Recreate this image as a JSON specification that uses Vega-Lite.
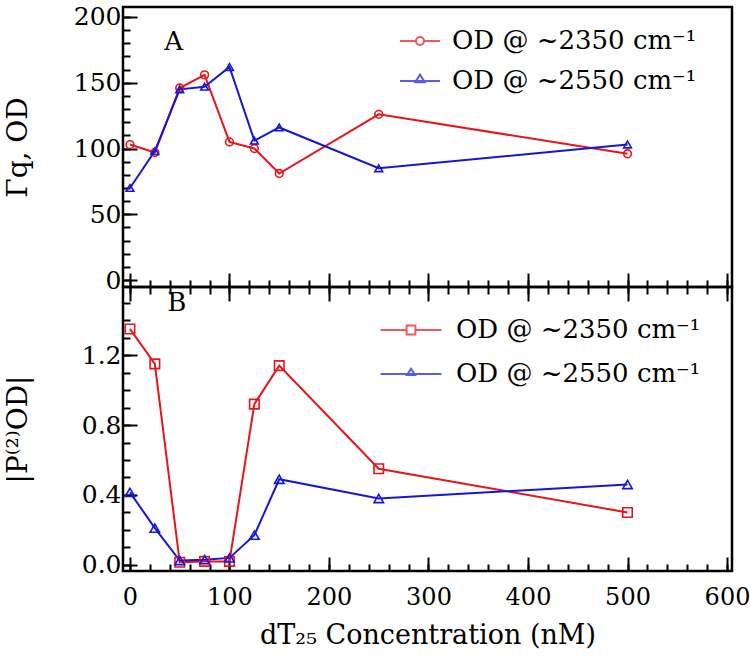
{
  "$schema": "https://vega.github.io/schema/vega-lite/v6.json",
  "padding": {"left": 2, "top": 3, "right": 4, "bottom": 5},
  "background": "white",
  "spacing": 0,
  "bounds": "flush",
  "datasets": {
    "gamma": [
      {"c": 0, "s": "2350", "v": 103}, {"c": 25, "s": "2350", "v": 97}, {"c": 50, "s": "2350", "v": 146},
      {"c": 75, "s": "2350", "v": 156}, {"c": 100, "s": "2350", "v": 105}, {"c": 125, "s": "2350", "v": 100},
      {"c": 150, "s": "2350", "v": 81}, {"c": 250, "s": "2350", "v": 126}, {"c": 500, "s": "2350", "v": 96},
      {"c": 0, "s": "2550", "v": 70}, {"c": 25, "s": "2550", "v": 98}, {"c": 50, "s": "2550", "v": 145},
      {"c": 75, "s": "2550", "v": 147}, {"c": 100, "s": "2550", "v": 162}, {"c": 125, "s": "2550", "v": 106},
      {"c": 150, "s": "2550", "v": 116}, {"c": 250, "s": "2550", "v": 85}, {"c": 500, "s": "2550", "v": 103}
    ],
    "p2": [
      {"c": 0, "s": "2350", "v": 1.35}, {"c": 25, "s": "2350", "v": 1.15}, {"c": 50, "s": "2350", "v": 0.015},
      {"c": 75, "s": "2350", "v": 0.02}, {"c": 100, "s": "2350", "v": 0.02}, {"c": 125, "s": "2350", "v": 0.92},
      {"c": 150, "s": "2350", "v": 1.14}, {"c": 250, "s": "2350", "v": 0.55}, {"c": 500, "s": "2350", "v": 0.30},
      {"c": 0, "s": "2550", "v": 0.415}, {"c": 25, "s": "2550", "v": 0.21}, {"c": 50, "s": "2550", "v": 0.025},
      {"c": 75, "s": "2550", "v": 0.03}, {"c": 100, "s": "2550", "v": 0.04}, {"c": 125, "s": "2550", "v": 0.17},
      {"c": 150, "s": "2550", "v": 0.49}, {"c": 250, "s": "2550", "v": 0.38}, {"c": 500, "s": "2550", "v": 0.46}
    ]
  },
  "resolve": {
    "scale": {"color": "independent", "shape": "independent", "y": "independent", "x": "independent"},
    "legend": {"color": "independent", "shape": "independent"}
  },
  "vconcat": [
    {
      "width": 609,
      "height": 280,
      "data": {"name": "gamma"},
      "resolve": {"axis": {"x": "independent", "y": "independent"}},
      "layer": [
        {
          "mark": {"type": "line", "strokeWidth": 2},
          "encoding": {
            "x": {
              "field": "c", "type": "quantitative",
              "scale": {"domain": [-7, 605], "nice": false, "zero": false},
              "axis": {"orient": "bottom", "values": [0,20,40,60,80,100,120,140,160,180,200,220,240,260,280,300,320,340,360,380,400,420,440,460,480,500,520,540,560,580,600], "tickSize": -7, "labels": false, "title": null}
            },
            "y": {
              "field": "v", "type": "quantitative",
              "scale": {"domain": [-5.3, 207.6], "nice": false, "zero": false},
              "axis": {"orient": "left", "values": [0,10,20,30,40,50,60,70,80,90,100,110,120,130,140,150,160,170,180,190,200], "tickSize": -7, "labels": false, "title": null}
            },
            "detail": {"field": "s"},
            "stroke": {"condition": {"test": "datum.s === '2350'", "value": "#e8141b"}, "value": "#1616d9"}
          }
        },
        {
          "mark": {"type": "point", "filled": false, "strokeWidth": 1.6, "size": 60, "opacity": 1},
          "encoding": {
            "x": {
              "field": "c", "type": "quantitative",
              "scale": {"domain": [-7, 605], "nice": false, "zero": false},
              "axis": {"orient": "bottom", "values": [0,100,200,300,400,500,600], "tickSize": -14, "labels": false, "title": null}
            },
            "y": {
              "field": "v", "type": "quantitative",
              "scale": {"domain": [-5.3, 207.6], "nice": false, "zero": false},
              "axis": {"orient": "left", "values": [0,50,100,150,200], "tickSize": -14, "labelPadding": 16, "title": "Γq, OD", "titlePadding": 16, "minExtent": 75, "maxExtent": 75}
            },
            "shape": {"condition": {"test": "datum.s === '2350'", "value": "circle"}, "value": "triangle-up"},
            "stroke": {"condition": {"test": "datum.s === '2350'", "value": "#e8141b"}, "value": "#1616d9"}
          }
        },
        {
          "transform": [{"filter": "false"}],
          "mark": {"type": "point", "filled": false, "strokeWidth": 2, "size": 1600},
          "encoding": {
            "color": {
              "field": "s", "type": "nominal",
              "scale": {"domain": ["2350", "2550"], "range": ["#e8141b", "#1616d9"]},
              "legend": {
                "title": null, "orient": "none", "legendX": 276, "legendY": 13,
                "labelExpr": "'OD @ ~' + datum.label + ' cm⁻¹'",
                "labelFont": "DejaVu Serif", "labelFontSize": 26, "labelColor": "black",
                "symbolSize": 1600, "symbolStrokeWidth": 2, "labelOffset": 11, "rowPadding": 6, "padding": 0,
                "labelLimit": 400
              }
            },
            "shape": {
              "field": "s", "type": "nominal",
              "scale": {"domain": ["2350", "2550"], "range": ["M-1,0H-0.2M0.2,0H1M0.2,0A0.2,0.2,0,1,1,-0.2,0A0.2,0.2,0,1,1,0.2,0", "M-1,0H1M0,-0.32L0.24,0.06L-0.24,0.06Z"]}
            }
          }
        },
        {
          "data": {"values": [{"c": 44, "v": 181, "t": "A"}]},
          "mark": {"type": "text", "font": "DejaVu Serif", "fontSize": 26, "color": "black", "align": "center", "baseline": "middle"},
          "encoding": {
            "x": {"field": "c", "type": "quantitative", "scale": {"domain": [-7, 605], "nice": false, "zero": false}, "axis": null},
            "y": {"field": "v", "type": "quantitative", "scale": {"domain": [-5.3, 207.6], "nice": false, "zero": false}, "axis": null},
            "text": {"field": "t"}
          }
        }
      ]
    },
    {
      "width": 609,
      "height": 284,
      "data": {"name": "p2"},
      "resolve": {"axis": {"x": "independent", "y": "independent"}},
      "layer": [
        {
          "mark": {"type": "line", "strokeWidth": 2},
          "encoding": {
            "x": {
              "field": "c", "type": "quantitative",
              "scale": {"domain": [-7, 605], "nice": false, "zero": false},
              "axis": {"orient": "bottom", "values": [0,20,40,60,80,100,120,140,160,180,200,220,240,260,280,300,320,340,360,380,400,420,440,460,480,500,520,540,560,580,600], "tickSize": -7, "labels": false, "title": null}
            },
            "y": {
              "field": "v", "type": "quantitative",
              "scale": {"domain": [-0.035, 1.59], "nice": false, "zero": false},
              "axis": {"orient": "left", "values": [0,0.1,0.2,0.3,0.4,0.5,0.6,0.7,0.8,0.9,1.0,1.1,1.2,1.3,1.4,1.5], "tickSize": -7, "labels": false, "title": null}
            },
            "detail": {"field": "s"},
            "stroke": {"condition": {"test": "datum.s === '2350'", "value": "#e8141b"}, "value": "#1616d9"}
          }
        },
        {
          "mark": {"type": "point", "filled": false, "strokeWidth": 1.6, "size": 90, "opacity": 1},
          "encoding": {
            "x": {
              "field": "c", "type": "quantitative",
              "scale": {"domain": [-7, 605], "nice": false, "zero": false},
              "axis": {"orient": "bottom", "values": [0,100,200,300,400,500,600], "tickSize": -14, "labelPadding": 28, "labelFontSize": 24, "title": "dT₂₅ Concentration (nM)", "titlePadding": 13, "titleFontSize": 27}
            },
            "y": {
              "field": "v", "type": "quantitative",
              "scale": {"domain": [-0.035, 1.59], "nice": false, "zero": false},
              "axis": {"orient": "left", "values": [0,0.4,0.8,1.2], "format": ".1f", "tickSize": -14, "labelPadding": 16, "title": "|P⁽²⁾OD|", "titlePadding": 16, "minExtent": 75, "maxExtent": 75}
            },
            "shape": {"condition": {"test": "datum.s === '2350'", "value": "square"}, "value": "triangle-up"},
            "stroke": {"condition": {"test": "datum.s === '2350'", "value": "#e8141b"}, "value": "#1616d9"}
          }
        },
        {
          "transform": [{"filter": "false"}],
          "mark": {"type": "point", "filled": false, "strokeWidth": 2, "size": 1600},
          "encoding": {
            "x": {
              "field": "c", "type": "quantitative",
              "scale": {"domain": [-7, 605], "nice": false, "zero": false},
              "axis": {"orient": "top", "values": [0,20,40,60,80,100,120,140,160,180,200,220,240,260,280,300,320,340,360,380,400,420,440,460,480,500,520,540,560,580,600], "tickSize": -7, "labels": false, "title": null}
            },
            "color": {
              "field": "s", "type": "nominal",
              "scale": {"domain": ["2350", "2550"], "range": ["#e8141b", "#1616d9"]},
              "legend": {
                "title": null, "orient": "none", "legendX": 267, "legendY": 22,
                "labelExpr": "'OD @ ~' + datum.label + ' cm⁻¹'",
                "labelFont": "DejaVu Serif", "labelFontSize": 26, "labelColor": "black",
                "symbolSize": 1600, "symbolStrokeWidth": 2, "labelOffset": 24, "rowPadding": 10, "padding": 0,
                "labelLimit": 400
              }
            },
            "shape": {
              "field": "s", "type": "nominal",
              "scale": {"domain": ["2350", "2550"], "range": ["M-1.52,0H-0.22M0.22,0H1.52M-0.22,-0.22H0.22V0.22H-0.22Z", "M-1.52,0H1.52M0,-0.26L0.2,0.05L-0.2,0.05Z"]}
            }
          }
        },
        {
          "data": {"values": [{"c": 47, "v": 1.5, "t": "B"}]},
          "mark": {"type": "text", "font": "DejaVu Serif", "fontSize": 26, "color": "black", "align": "center", "baseline": "middle"},
          "encoding": {
            "x": {
              "field": "c", "type": "quantitative",
              "scale": {"domain": [-7, 605], "nice": false, "zero": false},
              "axis": {"orient": "top", "values": [0,100,200,300,400,500,600], "tickSize": -14, "labels": false, "title": null}
            },
            "y": {"field": "v", "type": "quantitative", "scale": {"domain": [-0.035, 1.59], "nice": false, "zero": false}, "axis": null},
            "text": {"field": "t"}
          }
        }
      ]
    }
  ],
  "config": {
    "view": {"stroke": "black", "strokeWidth": 2.5},
    "concat": {"spacing": 0},
    "axis": {
      "domain": false, "grid": false,
      "tickColor": "black", "tickWidth": 2,
      "labelFont": "DejaVu Serif", "labelFontSize": 25, "labelColor": "black",
      "titleFont": "DejaVu Serif", "titleFontSize": 28, "titleColor": "black", "titleFontWeight": "normal"
    }
  }
}
